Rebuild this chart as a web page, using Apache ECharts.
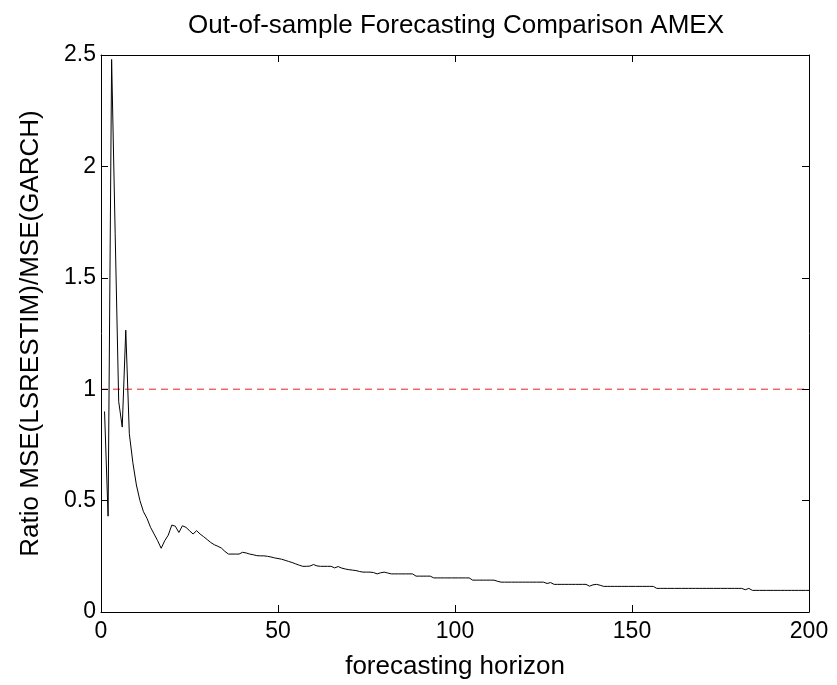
<!DOCTYPE html>
<html>
<head>
<meta charset="utf-8">
<script src="https://cdn.jsdelivr.net/npm/echarts@6/dist/echarts.min.js"></script>
<style>html,body{margin:0;padding:0;background:#fff}#c{width:837px;height:685px}</style>
</head>
<body>
<div id="c"></div>
<script>
var titleText = 'Out-of-sample Forecasting Comparison AMEX';
var xName = 'forecasting horizon';
var yName = 'Ratio MSE(LSRESTIM)/MSE(GARCH)';
var xTicks = [0, 50, 100, 150, 200];
var yTicks = [0, 0.5, 1, 1.5, 2, 2.5];
var refLevel = 1;
var mseRatio = [
  0.90, 0.43, 2.48, 1.70, 0.945, 0.83, 1.265, 0.80, 0.67, 0.57,
  0.50, 0.45, 0.42, 0.38, 0.35, 0.32, 0.286, 0.32, 0.345, 0.39,
  0.385, 0.357, 0.387, 0.38, 0.365, 0.35, 0.365, 0.35, 0.338, 0.325,
  0.312, 0.302, 0.295, 0.287, 0.272, 0.26, 0.26, 0.26, 0.26, 0.268,
  0.265, 0.26, 0.257, 0.253, 0.252, 0.252, 0.25, 0.247, 0.243, 0.24,
  0.237, 0.232, 0.227, 0.222, 0.216, 0.21, 0.205, 0.205, 0.206, 0.213,
  0.207, 0.205, 0.205, 0.205, 0.205, 0.198, 0.204, 0.197, 0.193, 0.19,
  0.188, 0.186, 0.182, 0.179, 0.179, 0.179, 0.177, 0.171, 0.176, 0.179,
  0.175, 0.171, 0.171, 0.171, 0.171, 0.171, 0.171, 0.171, 0.161, 0.161,
  0.161, 0.161, 0.161, 0.153, 0.153, 0.153, 0.153, 0.153, 0.153, 0.153,
  0.153, 0.153, 0.153, 0.153, 0.143, 0.143, 0.143, 0.143, 0.143, 0.143,
  0.143, 0.138, 0.134, 0.134, 0.134, 0.134, 0.134, 0.134, 0.134, 0.134,
  0.134, 0.134, 0.134, 0.134, 0.134, 0.128, 0.132, 0.124, 0.124, 0.124,
  0.124, 0.124, 0.124, 0.124, 0.124, 0.124, 0.124, 0.116, 0.122, 0.124,
  0.12, 0.115, 0.115, 0.115, 0.115, 0.115, 0.115, 0.115, 0.115, 0.115,
  0.115, 0.115, 0.115, 0.115, 0.115, 0.115, 0.106, 0.106, 0.106, 0.106,
  0.106, 0.106, 0.106, 0.106, 0.106, 0.106, 0.106, 0.106, 0.106, 0.106,
  0.106, 0.106, 0.106, 0.106, 0.106, 0.106, 0.106, 0.106, 0.106, 0.106,
  0.106, 0.100, 0.106, 0.097, 0.097, 0.097, 0.097, 0.097, 0.097, 0.097,
  0.097, 0.097, 0.097, 0.097, 0.097, 0.097, 0.097, 0.097, 0.097, 0.097
];

var FONT = 'Liberation Sans';
var TICK_LEN = 7;
var lineData = mseRatio.map(function (v, i) { return [i + 1, v]; });
var xMin = xTicks[0], xMax = xTicks[xTicks.length - 1], xInt = xTicks[1] - xTicks[0];
var yMin = yTicks[0], yMax = yTicks[yTicks.length - 1], yInt = yTicks[1] - yTicks[0];
var refData = [[xMin, refLevel], [xMax, refLevel]];

function axisBase(extra) {
  return Object.assign({
    z: 5,
    axisLine: { show: true, onZero: false, lineStyle: { color: '#000', width: 1 } },
    axisTick: { show: true, inside: true, length: TICK_LEN, lineStyle: { color: '#000', width: 1 } },
    splitLine: { show: false }
  }, extra);
}

var chart = echarts.init(document.getElementById('c'), null, { renderer: 'canvas' });
chart.setOption({
  backgroundColor: '#fff',
  animation: false,
  title: {
    text: titleText,
    left: 451, top: 8, textAlign: 'center',
    textStyle: { fontFamily: FONT, fontSize: 26, fontWeight: 'normal', color: '#000' }
  },
  grid: { left: 101, right: 28, top: 55, bottom: 70, containLabel: false },
  xAxis: [
    axisBase({
      type: 'value', position: 'bottom', min: xMin, max: xMax, interval: xInt,
      name: xName, nameLocation: 'middle', nameGap: 42,
      nameTextStyle: { fontFamily: FONT, fontSize: 26, color: '#000' },
      axisLabel: { fontFamily: FONT, fontSize: 23, color: '#000', margin: 8 }
    }),
    axisBase({
      type: 'value', position: 'top', min: xMin, max: xMax, interval: xInt,
      axisLabel: { show: false }
    })
  ],
  yAxis: [
    axisBase({
      type: 'value', position: 'left', min: yMin, max: yMax, interval: yInt,
      name: yName, nameLocation: 'middle', nameGap: 57,
      nameTextStyle: { fontFamily: FONT, fontSize: 26, color: '#000' },
      axisLabel: { fontFamily: FONT, fontSize: 23, color: '#000', margin: 5 }
    }),
    axisBase({
      type: 'value', position: 'right', min: yMin, max: yMax, interval: yInt,
      axisLabel: { show: false }
    })
  ],
  series: [
    {
      type: 'line', xAxisIndex: 0, yAxisIndex: 0,
      data: refData, showSymbol: false, symbol: 'none', silent: true,
      lineStyle: { color: '#e82020', width: 1, type: [7, 5] }
    },
    {
      type: 'line', xAxisIndex: 0, yAxisIndex: 0,
      data: lineData, showSymbol: false, symbol: 'none',
      lineStyle: { color: '#000', width: 1 }
    }
  ]
});
</script>
</body>
</html>
